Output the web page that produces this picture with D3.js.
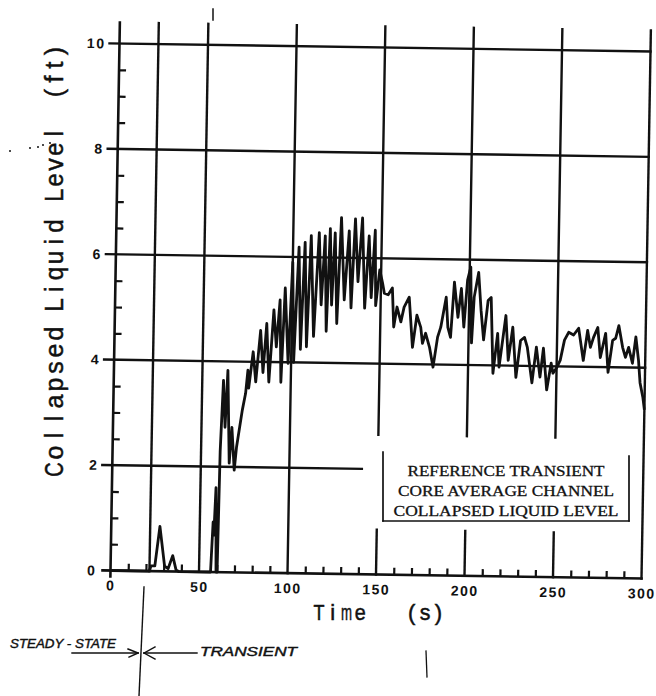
<!DOCTYPE html>
<html>
<head>
<meta charset="utf-8">
<script src="https://cdn.jsdelivr.net/npm/d3@7"></script>
<style>
  html, body { margin: 0; padding: 0; background: #fff; }
  svg { display: block; }
</style>
</head>
<body>
<svg id="chart" width="656" height="696"></svg>
<script>
// Core average channel collapsed liquid level, reference transient
const timeS = [0,22,22.8,25,27.5,30.5,32.5,35,37,38.5,
  56.5,57.5,58,58.8,59.6,60.2,60.8,62,63.3,64.4,
  66,67.2,68.9,70,72.9,74.6,75.7,76.3,78.5,80.2,
  82.5,84.2,85.9,87.6,89.8,91.5,93.2,94.4,96,98.3,
  100,101.4,103.4,105.1,106.8,108.5,110.2,112.4,114.7,116.4,
  118.1,119.5,120.9,122.3,123.7,125.4,127.1,129.4,131.6,133.3,
  135,137,139,141,142.9,144.6,146.3,147.2,149.2,150.9,
  152,154.2,156.5,157.6,159.3,161.6,163.3,166.1,168.4,170.6,
  172.9,174,175.7,178,180.2,182.5,184.2,187,188.2,189.8,
  191.5,193.8,195.5,197.2,198.9,200.6,201.7,202.8,205.1,206.8,
  208.5,210.7,212.4,214.1,216.4,217.5,220.9,222.6,224.9,227.1,
  229.4,231.6,233.3,236.2,238.4,240.7,242.4,244.6,246.9,248,
  250.3,252,254.2,256.5,259.3,262.1,265,267.2,268.9,270.6,
  272.9,274.6,277.4,279.1,281.4,283.1,284.8,287.1,288.8,290.5,
  292.8,294.5,296.2,297.3,299,300];

const levelFt = [0,0,0.1,0.1,0.85,0.1,0.05,0.3,0.03,0,
  0,0.95,0.7,1.6,0,0,2.3,3.64,2.75,3.83,
  2.07,2.75,1.94,2.38,3.08,3.4,3.84,3.5,4.19,3.62,
  4.6,3.8,4.73,3.62,4.99,4.29,5.18,3.62,5.41,3.98,
  5.9,4.0,6.19,4.25,6.28,4.3,6.41,4.5,6.47,5.1,
  6.41,4.6,6.55,5.1,6.47,4.75,6.76,5.2,6.51,5.05,
  6.74,5.55,6.76,5.05,6.42,5.25,6.53,5.1,5.78,5.53,
  5.34,5.31,5.44,4.70,5.08,4.80,5.08,5.27,4.32,4.93,
  4.70,4.40,4.59,4.33,3.95,4.52,4.71,5.28,4.71,4.52,
  5.57,4.90,5.45,4.72,5.61,5.86,4.42,5.29,5.76,5.04,
  4.48,5.23,5.29,3.85,4.61,3.97,4.95,4.10,4.73,3.78,
  4.48,4.54,4.35,3.68,4.36,3.79,4.34,3.55,4.06,3.87,
  3.99,4.12,4.50,4.65,4.60,4.73,4.12,4.69,4.37,4.56,
  4.75,4.18,4.64,3.90,4.51,4.55,4.79,4.38,4.19,4.38,
  4.08,4.58,4.14,3.71,3.44,3.2];

const xMajorTicks = [0, 50, 100, 150, 200, 250, 300];
const xMinorTicks = d3.range(10, 300, 10).filter(d => d % 50 !== 0);
const yMajorTicks = [0, 2, 4, 6, 8, 10];
const yMinorTicks = d3.range(0.5, 10, 0.5).filter(d => d % 2 !== 0);
const transitionTime = 22;           // end of steady state
const legendLines = ["REFERENCE TRANSIENT", "CORE AVERAGE CHANNEL", "COLLAPSED LIQUID LEVEL"];
const xTitleWords = ["Time", "(s)"];
const yTitleWords = ["Collapsed", "Liquid", "Level", "(ft)"];

const W = 531, H = 527;
const x = d3.scaleLinear().domain([0, 300]).range([0, W]);
const y = d3.scaleLinear().domain([0, 10]).range([H, 0]);

const svg = d3.select("#chart");
// plot frame, slightly skewed like the scanned sheet
const g = svg.append("g").attr("transform", "matrix(1,0.01507,-0.01708,1,119.5,43.5)");

const ink = "#111";
function seg(parent, x1, y1, x2, y2, w) {
  parent.append("line").attr("x1", x1).attr("y1", y1).attr("x2", x2).attr("y2", y2)
    .attr("stroke", ink).attr("stroke-width", w || 2).attr("stroke-linecap", "square");
}

// horizontal grid
[4, 6, 8, 10].forEach(v => seg(g, -10, y(v), x(300), y(v), 2.4));
seg(g, -10, y(2), x(141), y(2), 2.4);

// vertical grid
[transitionTime, 50, 100, 300].forEach(t => seg(g, x(t), -21, x(t), H, 2.4));
[150, 200, 250].forEach(t => {
  seg(g, x(t), -21, x(t), y(2.65), 2.4);
  seg(g, x(t), y(0.85), x(t), H, 2.4);
});

// axis lines
seg(g, 0, -21, 0, H + 6, 2.6);
seg(g, -8, H, x(300), H, 2.6);

// x ticks
const xMinor = g.append("g").attr("transform", `translate(0,${H})`)
  .call(d3.axisBottom(x).tickValues(xMinorTicks).tickSize(-7).tickFormat(""));
const xMajor = g.append("g").attr("transform", `translate(0,${H})`)
  .call(d3.axisBottom(x).tickValues(xMajorTicks).tickSize(0).tickPadding(10));
// y ticks
const yMinor = g.append("g")
  .call(d3.axisRight(y).tickValues(yMinorTicks).tickSize(7).tickFormat(""));
const yMajor = g.append("g")
  .call(d3.axisLeft(y).tickValues(yMajorTicks).tickSize(0).tickPadding(14));

[xMinor, xMajor, yMinor, yMajor].forEach(a => {
  a.select(".domain").remove();
  a.selectAll(".tick line").attr("stroke", ink).attr("stroke-width", 2.2);
  a.selectAll("text").attr("fill", ink)
    .attr("font-family", "'Liberation Sans', Arial, sans-serif")
    .attr("font-weight", "bold").attr("font-size", 14)
    .attr("letter-spacing", 1.5);
});

// liquid level trace
const line = d3.line().x(d => x(d[0])).y(d => y(d[1]));
g.append("path").datum(d3.zip(timeS, levelFt))
  .attr("d", line).attr("fill", "none").attr("stroke", ink)
  .attr("stroke-width", 2.8).attr("stroke-linejoin", "round");

// axis titles in the plotter's evenly pitched lettering;
// wide glyphs are narrowed so each stays inside its own cell
function spread(parent, str, start, end, baseY, size, share) {
  const pitch = (end - start) / str.length;
  Array.from(str).forEach((c, i) => {
    const cell = parent.append("g")
      .attr("transform", `translate(${start + pitch * (i + 0.5)},${baseY})`);
    const t = cell.append("text")
      .attr("text-anchor", "middle")
      .attr("font-family", "'Liberation Sans', Arial, sans-serif")
      .attr("font-size", size).attr("fill", ink).attr("stroke", ink).attr("stroke-width", 0.5)
      .text(c);
    const w = t.node().getComputedTextLength();
    const fit = pitch * share;
    if (w > fit) t.attr("transform", `scale(${fit / w},1)`);
  });
}
spread(svg, xTitleWords[0], 312, 367, 620, 22, 0.8);
spread(svg, xTitleWords[1], 405, 445, 620, 22, 0.8);
const yt = svg.append("g").attr("transform", "rotate(-90)");
[[-478, -325], [-313, -218], [-203, -126], [-100, -44]].forEach((p, i) =>
  spread(yt, yTitleWords[i], p[0], p[1], 63, 25, 0.85));

// legend label
const lg = svg.append("g");
seg(lg, 383, 452, 383, 521, 1.7);
seg(lg, 383, 521, 629, 521, 1.7);
seg(lg, 629, 456, 629, 521, 1.7);
const legendWidths = [197, 216, 225];
legendLines.forEach((s, i) => {
  lg.append("text").attr("x", 506).attr("y", 476 + i * 20)
    .attr("text-anchor", "middle")
    .attr("font-family", "'Liberation Serif', 'Times New Roman', serif")
    .attr("font-size", 15).attr("fill", ink).attr("stroke", ink).attr("stroke-width", 0.3)
    .attr("textLength", legendWidths[i]).attr("lengthAdjust", "spacingAndGlyphs")
    .text(s);
});

// steady-state / transient annotation
const an = svg.append("g");
seg(an, 144, 587, 139, 696, 1.4);
an.append("text").attr("x", 10).attr("y", 648)
  .attr("font-family", "'Liberation Sans', Arial, sans-serif").attr("font-style", "italic")
  .attr("font-size", 12).attr("fill", ink).attr("stroke", ink).attr("stroke-width", 0.4)
  .attr("textLength", 106).attr("lengthAdjust", "spacingAndGlyphs").text("STEADY - STATE");
seg(an, 72, 653, 138, 653, 1.4);
seg(an, 138, 653, 128, 649, 1.4);
seg(an, 138, 653, 129, 657, 1.4);
seg(an, 144, 653, 197, 653, 1.4);
seg(an, 144, 653, 155, 647, 1.4);
seg(an, 144, 653, 155, 659, 1.4);
an.append("text").attr("x", 200).attr("y", 656)
  .attr("font-family", "'Liberation Sans', Arial, sans-serif").attr("font-style", "italic")
  .attr("font-size", 12).attr("fill", ink).attr("stroke", ink).attr("stroke-width", 0.4)
  .attr("textLength", 97).attr("lengthAdjust", "spacingAndGlyphs").text("TRANSIENT");

// stray pen marks on the sheet
seg(svg, 213, 9, 213, 20, 1.5);
seg(svg, 426, 651, 427, 677, 1.3);
[[10, 151], [30, 148], [38, 147], [43, 145], [50, 143]].forEach(p =>
  svg.append("circle").attr("cx", p[0]).attr("cy", p[1]).attr("r", 1).attr("fill", ink));
</script>
</body>
</html>
